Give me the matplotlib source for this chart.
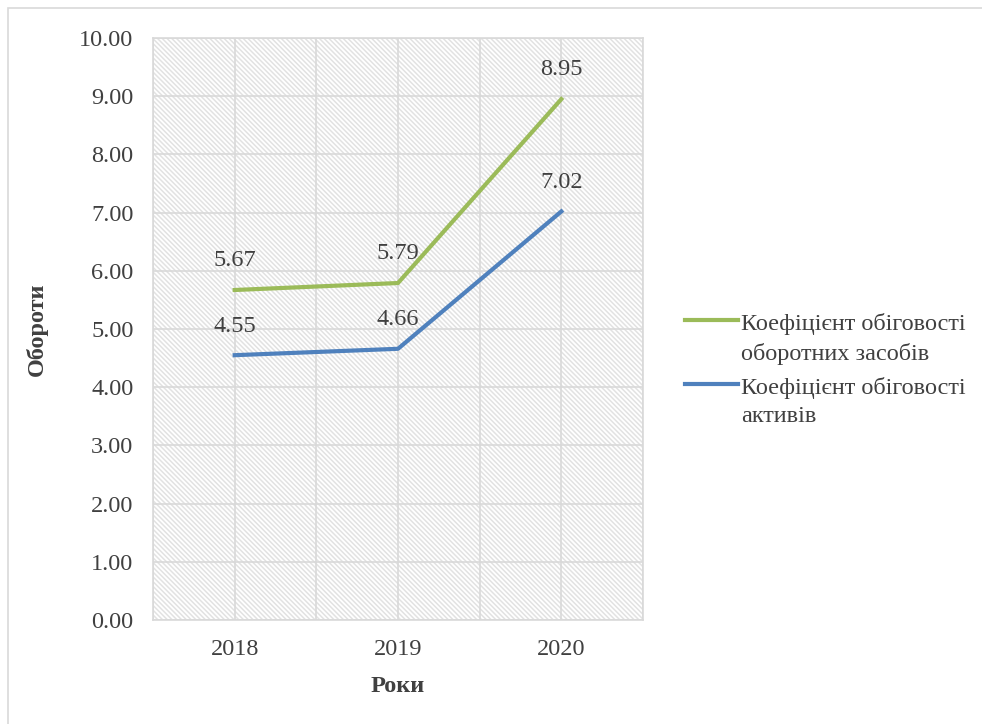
import matplotlib.pyplot as plt
from matplotlib.patches import Rectangle
from matplotlib.lines import Line2D

years = ["2018", "2019", "2020"]
current_assets_turnover = [5.67, 5.79, 8.95]
total_assets_turnover = [4.55, 4.66, 7.02]
series_labels = ["Коефіцієнт обіговості\nоборотних засобів",
                 "Коефіцієнт обіговості\nактивів"]
y_ticks = [0, 1, 2, 3, 4, 5, 6, 7, 8, 9, 10]

GREEN = "#9bbb59"
BLUE = "#4f81bd"
TEXT = "#404040"
GRID = "#d9d9d9"
FS = 17.5

plt.rcParams["font.family"] = ["Liberation Serif", "DejaVu Serif"]
plt.rcParams["hatch.linewidth"] = 1.1

W, H = 982, 724
fig = plt.figure(figsize=(W / 100, H / 100), dpi=100)

# outer chart frame (only top/left edges fall inside the canvas)
fig.add_artist(Rectangle((8 / W, -0.1), 1.2, 1 - 8 / H + 0.1, transform=fig.transFigure,
                         fill=False, edgecolor="#d9d9d9", linewidth=1.2))

ax = fig.add_axes([153 / W, 1 - 620 / H, (643 - 153) / W, (620 - 38) / H])
x = list(range(len(years)))

# dense diagonal pattern fill behind the plot area
ax.add_patch(Rectangle((-0.5, 0), 3, 10, facecolor="white", edgecolor="#e2e2e2",
                       linewidth=0, hatch="\\" * 7, zorder=0))

ax.set_xlim(-0.5, 2.5)
ax.set_ylim(0, 10)
ax.set_yticks(y_ticks)
ax.set_yticklabels([f"{v:.2f}" for v in y_ticks])
ax.set_xticks(x)
ax.set_xticklabels(years)
ax.set_xticks([-0.5, 0.5, 1.5, 2.5], minor=True)

ax.grid(True, which="both", color=GRID, linewidth=1.2, zorder=1)
ax.tick_params(which="both", length=0, labelsize=FS, colors=TEXT)
ax.tick_params(axis="y", pad=14)
ax.tick_params(axis="x", pad=14)
for s in ax.spines.values():
    s.set_color(GRID)
    s.set_linewidth(1.2)

ax.plot(x, current_assets_turnover, color=GREEN, linewidth=3, zorder=3)
ax.plot(x, total_assets_turnover, color=BLUE, linewidth=3, zorder=3)

for series in (current_assets_turnover, total_assets_turnover):
    for xi, v in zip(x, series):
        ax.annotate(f"{v:.2f}", (xi, v), xytext=(0, 17), textcoords="offset points",
                    ha="center", va="baseline", fontsize=FS, color=TEXT, zorder=4)

ax.set_ylabel("Обороти", fontsize=FS, fontweight="bold", color=TEXT)
ax.yaxis.set_label_coords((48 - 153) / 490, 0.5)
ax.set_xlabel("Роки", fontsize=FS, fontweight="bold", color=TEXT)
ax.xaxis.set_label_coords(0.5, (620 - 676) / 582)

# legend drawn by hand so each key sits beside the first line of its label
legend_rows = [(GREEN, 320), (BLUE, 384)]
for (color, y_px), label in zip(legend_rows, series_labels):
    fig.add_artist(Line2D([685 / W, 738 / W], [1 - y_px / H] * 2, color=color,
                          linewidth=3, transform=fig.transFigure))
    fig.text(741 / W, 1 - (y_px - 7) / H, label, fontsize=FS, color=TEXT,
             ha="left", va="top", linespacing=1.45)

fig.savefig("out.png", dpi=100, facecolor="white")
